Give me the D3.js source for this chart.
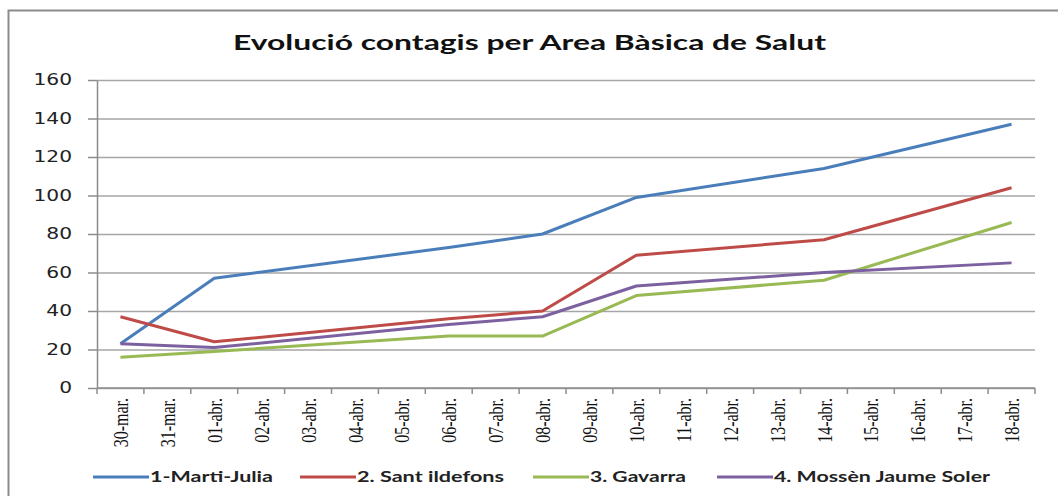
<!DOCTYPE html>
<html>
<head>
<meta charset="utf-8">
<script src="https://d3js.org/d3.v7.min.js"></script>
<style>
  body { margin: 0; background: #fff; }
</style>
</head>
<body>
<svg width=1058 height=496></svg>
<script>
// all the category labels on the x axis
var days = ["30-mar.", "31-mar.", "01-abr.", "02-abr.", "03-abr.", "04-abr.", "05-abr.",
  "06-abr.", "07-abr.", "08-abr.", "09-abr.", "10-abr.", "11-abr.", "12-abr.", "13-abr.",
  "14-abr.", "15-abr.", "16-abr.", "17-abr.", "18-abr."]
// days that actually have a value (the line joins across the others)
var dataDays = ["30-mar.", "01-abr.", "06-abr.", "08-abr.", "10-abr.", "14-abr.", "18-abr."]
var martiJulia = [23, 57, 73, 80, 99, 114, 137]
var santIldefons = [37, 24, 36, 40, 69, 77, 104]
var gavarra = [16, 19, 27, 27, 48, 56, 86]
var mossen = [23, 21, 33, 37, 53, 60, 65]
var seriesNames = ["1-Marti-Julia", "2. Sant ildefons", "3. Gavarra", "4. Mossèn Jaume Soler"]
var yTicks = [0, 20, 40, 60, 80, 100, 120, 140, 160]

var colors = ["#4A7EBB", "#BE4B48", "#98B954", "#7D60A0"]
var allSeries = [martiJulia, santIldefons, gavarra, mossen]

var svg = d3.select('svg')
var stretch = 1.35 // the picture is wider than it is tall, text too

// frame (open on the right and bottom, like the crop)
svg.append('path')
  .attr('d', 'M8.5,500 L8.5,10.5 L1060,10.5')
  .attr('fill', 'none')
  .attr('stroke', '#8c8c8c')
  .attr('stroke-width', 2)

// title
svg.append('text')
  .attr('x', 233).attr('y', 50)
  .attr('textLength', 593)
  .attr('lengthAdjust', 'spacingAndGlyphs')
  .style('font-family', 'Lato')
  .style('font-weight', 'bold')
  .style('font-size', '20px')
  .style('fill', '#111')
  .text("Evolució contagis per Area Bàsica de Salut")

var x = d3.scaleBand().domain(days).range([97, 1035])
var y = d3.scaleLinear().domain([0, 160]).range([388, 80])
var cx = function(d) { return x(d) + x.bandwidth() / 2 }

// gridlines
svg.append('g')
  .attr('transform', 'translate(97,0)')
  .call(d3.axisLeft(y).tickValues(yTicks).tickSize(-938).tickFormat(''))
  .call(g => g.select('.domain').remove())
  .call(g => g.selectAll('line').attr('stroke', '#a6a6a6').attr('stroke-width', 1.5))

// y axis
var yAxis = svg.append('g')
  .attr('transform', 'translate(97,0)')
  .call(d3.axisLeft(y).tickValues(yTicks).tickSize(9).tickSizeOuter(0))
yAxis.select('.domain').attr('stroke', '#8c8c8c').attr('stroke-width', 1.5)
yAxis.selectAll('line').attr('stroke', '#8c8c8c').attr('stroke-width', 1.5)
yAxis.selectAll('text')
  .attr('x', -25 / stretch)
  .attr('transform', 'scale(' + stretch + ',1)')
  .style('font-family', 'DejaVu Sans')
  .style('font-size', '15px')
  .style('fill', '#222')

// x axis line + ticks at category boundaries
svg.append('line')
  .attr('x1', 97).attr('x2', 1035)
  .attr('y1', y(0)).attr('y2', y(0))
  .attr('stroke', '#8c8c8c').attr('stroke-width', 1.5)
svg.append('g').selectAll('line')
  .data(days.concat(['end']))
  .join('line')
  .attr('x1', (d, i) => 97 + i * x.step())
  .attr('x2', (d, i) => 97 + i * x.step())
  .attr('y1', y(0)).attr('y2', y(0) + 6)
  .attr('stroke', '#8c8c8c').attr('stroke-width', 1.5)

svg.append('g').selectAll('text')
  .data(days)
  .join('text')
  .attr('transform', d => 'translate(' + cx(d) + ',398) rotate(-90) scale(1,' + stretch + ')')
  .attr('text-anchor', 'end')
  .attr('dy', '0.35em')
  .style('font-family', 'Liberation Serif')
  .style('font-size', '16px')
  .style('fill', '#111')
  .text(d => d)

// lines
var line = d3.line()
  .x((d, i) => cx(dataDays[i]))
  .y(d => y(d))

svg.append('g').selectAll('path')
  .data(allSeries)
  .join('path')
  .attr('d', d => line(d))
  .attr('fill', 'none')
  .attr('stroke', (d, i) => colors[i])
  .attr('stroke-width', 3)
  .attr('stroke-linejoin', 'round')

// legend
var legendX = [93, 300, 533, 717]
var legendW = [123, 147, 96, 216]
var legend = svg.append('g').selectAll('g')
  .data(seriesNames)
  .join('g')
  .attr('transform', (d, i) => 'translate(' + legendX[i] + ',477)')
legend.append('line')
  .attr('x1', 0).attr('x2', 56)
  .attr('stroke', (d, i) => colors[i])
  .attr('stroke-width', 3)
legend.append('text')
  .attr('x', 57).attr('dy', '0.35em')
  .attr('textLength', (d, i) => legendW[i])
  .attr('lengthAdjust', 'spacingAndGlyphs')
  .style('font-family', 'Lato')
  .style('font-weight', 'bold')
  .style('font-size', '15px')
  .style('fill', '#222')
  .text(d => d)
</script>
</body>
</html>
